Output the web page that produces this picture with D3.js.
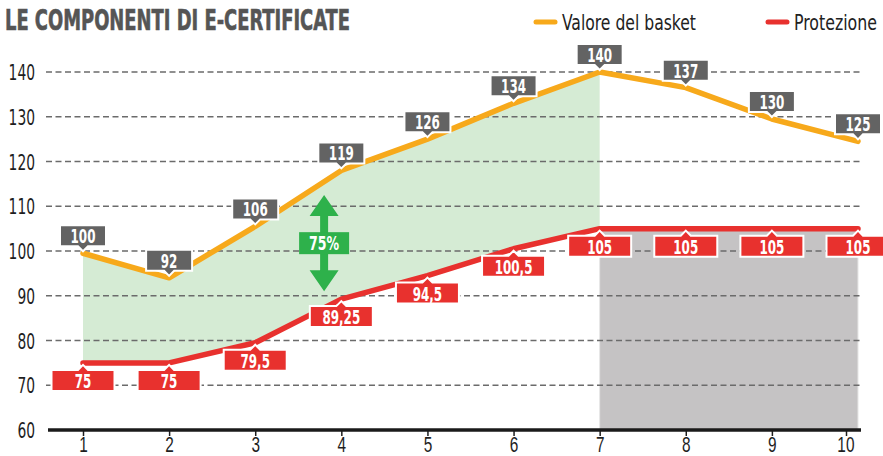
<!DOCTYPE html>
<html lang="it">
<head>
<meta charset="UTF-8">
<title>Le componenti di E-Certificate</title>
<script src="https://d3js.org/d3.v7.min.js"></script>
<style>
    body { margin: 0; background: #fff; }
    svg { display: block; font-family: "DejaVu Sans Condensed", "Liberation Sans Narrow", sans-serif; }
    .grid line { stroke: #6b6b6b; stroke-width: 1.3; stroke-dasharray: 6 3.5; }
    .tick-label { fill: #1e1e1e; font-size: 22px; }
    .lbl text { fill: #fff; font-weight: bold; font-size: 19px; text-anchor: middle; }
</style>
</head>
<body>
<svg id="chart" width="883" height="456"></svg>
<script>
// data
const periods = [1, 2, 3, 4, 5, 6, 7, 8, 9, 10];
const basket = [99.5, 94, 105.5, 118, 125, 133, 140, 136.5, 129.5, 124.5];
const basketLabels = ["100", "92", "106", "119", "126", "134", "140", "137", "130", "125"];
const protection = [75, 75, 79.5, 89.25, 94.5, 100.5, 105, 105, 105, 105];
const protectionLabels = ["75", "75", "79,5", "89,25", "94,5", "100,5", "105", "105", "105", "105"];
const yTicks = [60, 70, 80, 90, 100, 110, 120, 130, 140];
const splitPeriod = 7;           // green area up to here, grey after
const gapArrow = { at: 3.8, from: 112.5, to: 91, label: "75%" };

const orange = "#f7a91b", red = "#e8312e", green = "#2eb14b", greenFill = "#d5ebd4",
      greyFill = "#c5c3c4", labelGrey = "#636363";
const squeeze = "scale(0.7,1)";  // fake a narrow display face

const svg = d3.select("#chart");
const x = d3.scaleLinear().domain([1, 10]).range([83, 858]);
const y = d3.scaleLinear().domain([60, 140]).range([430, 72]);

const rows = periods.map((p, i) => ({ p, b: basket[i], pr: protection[i], bl: basketLabels[i], pl: protectionLabels[i] }));

// green area between the two lines
const early = rows.filter(d => d.p <= splitPeriod);
svg.append("path")
    .datum(early)
    .attr("fill", greenFill)
    .attr("d", d3.area().x(d => x(d.p)).y0(d => y(d.pr)).y1(d => y(d.b)));

// grey area below protection after split
const late = rows.filter(d => d.p >= splitPeriod);
svg.append("path")
    .datum(late)
    .attr("fill", greyFill)
    .attr("stroke", "#e6e6e6").attr("stroke-width", 1)
    .attr("d", d3.area().x(d => x(d.p)).y0(y(60)).y1(d => y(d.pr)));

// dashed grid
svg.append("g").attr("class", "grid")
    .selectAll("line")
    .data(yTicks.filter(t => t > 60))
    .join("line")
    .attr("x1", 46).attr("x2", 861)
    .attr("y1", d => y(d)).attr("y2", d => y(d));

// y axis labels
svg.append("g")
    .selectAll("g")
    .data(yTicks)
    .join("g")
    .attr("transform", d => `translate(35,${y(d) + 8})`)
    .append("text")
    .attr("class", "tick-label")
    .attr("transform", squeeze)
    .attr("text-anchor", "end")
    .text(d => d);

// x axis
const xAxis = svg.append("g")
    .attr("transform", `translate(0,${y(60)})`)
    .call(d3.axisBottom(x).tickValues(periods).tickSize(6).tickFormat(d3.format("d")));
xAxis.select(".domain").remove();
xAxis.selectAll(".tick line").attr("stroke", "#1e1e1e").attr("stroke-width", 1.5);
xAxis.selectAll(".tick text")
    .attr("class", "tick-label")
    .attr("font-size", null).attr("font-family", null).attr("fill", null)
    .attr("y", 22).attr("dy", null)
    .attr("x", d => d === 10 ? -18 : 0)
    .attr("transform", squeeze);
xAxis.selectAll(".tick").filter(d => d === 10).select("line").attr("x1", -12).attr("x2", -12);
svg.append("line")
    .attr("x1", 48).attr("x2", 861)
    .attr("y1", y(60)).attr("y2", y(60))
    .attr("stroke", "#1a1a1a").attr("stroke-width", 3.5);

// lines
const line = key => d3.line().x(d => x(d.p)).y(d => y(d[key]));
svg.append("path").datum(rows)
    .attr("fill", "none").attr("stroke", red).attr("stroke-width", 5.5)
    .attr("stroke-linecap", "round").attr("stroke-linejoin", "round")
    .attr("d", line("pr"));
svg.append("path").datum(rows)
    .attr("fill", "none").attr("stroke", orange).attr("stroke-width", 5.5)
    .attr("stroke-linecap", "round").attr("stroke-linejoin", "round")
    .attr("d", line("b"));

// protection labels (below point, notch up)
const pl = svg.append("g").selectAll("g")
    .data(rows).join("g")
    .attr("class", "lbl")
    .attr("transform", d => `translate(${x(d.p)},${y(d.pr)})`);
pl.append("path")
    .attr("d", "M-31.5,7 H-5 L0,2 L5,7 H31.5 V28 H-31.5 Z")
    .attr("fill", red).attr("stroke", "#fff").attr("stroke-width", 2);
pl.append("text").attr("y", 25).attr("transform", squeeze).text(d => d.pl);

// basket labels (above point, notch down)
const bl = svg.append("g").selectAll("g")
    .data(rows).join("g")
    .attr("class", "lbl")
    .attr("transform", d => `translate(${x(d.p)},${y(d.b)})`);
bl.append("path")
    .attr("d", "M-23,-28 H23 V-7 H5 L0,-2 L-5,-7 H-23 Z")
    .attr("fill", labelGrey).attr("stroke", "#fff").attr("stroke-width", 2);
bl.append("text").attr("y", -10).attr("transform", squeeze).text(d => d.bl);

// green double arrow
const ax = x(gapArrow.at), ay1 = y(gapArrow.from), ay2 = y(gapArrow.to);
const arrow = svg.append("g");
arrow.append("path")
    .attr("fill", green)
    .attr("d", `M${ax},${ay1} L${ax + 14.5},${ay1 + 21} L${ax + 4},${ay1 + 21} L${ax + 4},${ay2 - 21}
                L${ax + 14.5},${ay2 - 21} L${ax},${ay2} L${ax - 14.5},${ay2 - 21} L${ax - 4},${ay2 - 21}
                L${ax - 4},${ay1 + 21} L${ax - 14.5},${ay1 + 21} Z`);
const amid = (ay1 + ay2) / 2;
arrow.append("rect")
    .attr("x", ax - 25).attr("y", amid - 11).attr("width", 50).attr("height", 22)
    .attr("fill", green);
arrow.append("g")
    .attr("transform", `translate(${ax},${amid + 7})`)
    .append("text")
    .attr("transform", squeeze)
    .attr("text-anchor", "middle").attr("fill", "#fff")
    .attr("font-weight", "bold").attr("font-size", 20)
    .text(gapArrow.label);

// title
svg.append("text")
    .attr("x", 5).attr("y", 30)
    .attr("fill", "#555").attr("font-weight", "bold").attr("font-size", 28)
    .attr("stroke", "#555").attr("stroke-width", 0.6)
    .attr("textLength", 345).attr("lengthAdjust", "spacingAndGlyphs")
    .text("LE COMPONENTI DI E-CERTIFICATE");

// legend
const legend = [
    { name: "Valore del basket", color: orange, x: 534, w: 134 },
    { name: "Protezione", color: red, x: 766, w: 83 }
];
const lg = svg.append("g").selectAll("g").data(legend).join("g")
    .attr("transform", d => `translate(${d.x},22)`);
lg.append("line").attr("x1", 2).attr("x2", 21)
    .attr("stroke", d => d.color).attr("stroke-width", 5).attr("stroke-linecap", "round");
lg.append("g")
    .attr("transform", "translate(28,7.5)")
    .append("text")
    .attr("transform", "scale(0.8,1)")
    .attr("fill", "#222").attr("font-size", 21)
    .attr("textLength", d => d.w / 0.8).attr("lengthAdjust", "spacingAndGlyphs")
    .text(d => d.name);
</script>
</body>
</html>
